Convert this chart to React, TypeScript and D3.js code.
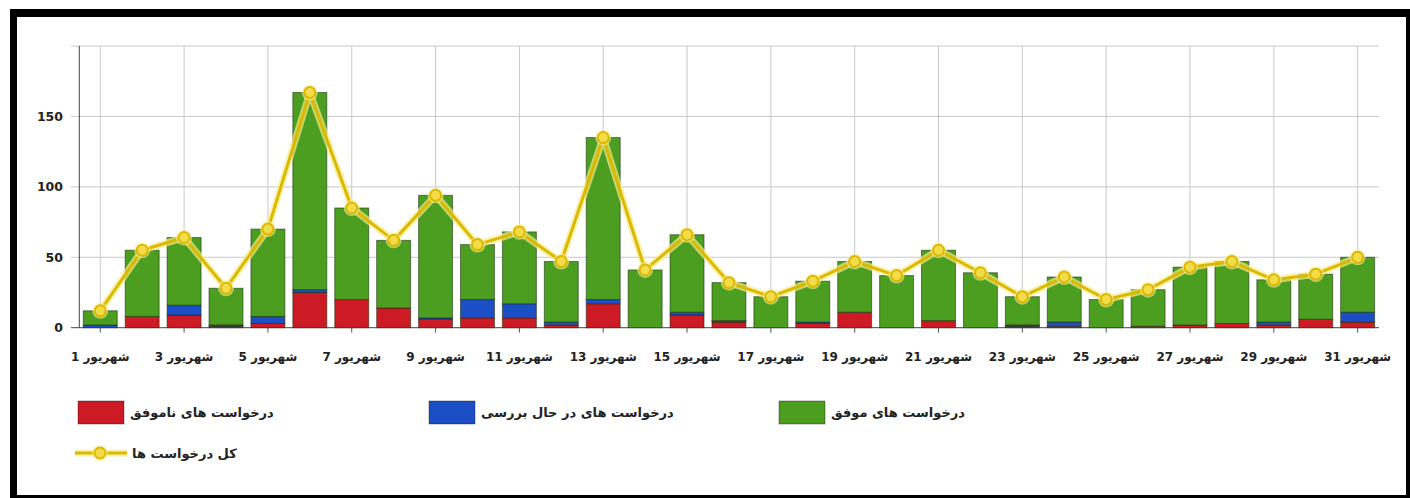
import React from "react";
import * as d3 from "d3";

const days = d3.range(1, 32).map((d) => `شهریور ${d}`);
const failed = [0, 8, 9, 1, 3, 25, 20, 14, 6, 7, 7, 2, 17, 0, 9, 4, 0, 3, 11, 0, 5, 0, 1, 1, 0, 1, 2, 3, 2, 6, 4];
const pending = [2, 0, 7, 1, 5, 2, 0, 0, 1, 13, 10, 2, 3, 0, 2, 1, 0, 1, 0, 0, 0, 0, 1, 3, 0, 0, 0, 0, 2, 0, 7];
const success = [10, 47, 48, 26, 62, 140, 65, 48, 87, 39, 51, 43, 115, 41, 55, 27, 22, 29, 36, 37, 50, 39, 20, 32, 20, 26, 41, 44, 30, 32, 39];
const yTicks = [0, 50, 100, 150];
const yGrid = [0, 50, 100, 150, 200];

const seriesNames = ["درخواست های ناموفق", "درخواست های در حال بررسی", "درخواست های موفق"];
const lineName = "کل درخواست ها";
const colors = ["#cc1b24", "#1c4fc6", "#4c9e20"];
const lineColor = "#dcb900";

const W = 1410;
const H = 498;
const FONT = "'DejaVu Sans', sans-serif";

export default function App() {
  const x = d3.scaleBand<string>().domain(days).range([79.3, 1378.6]).paddingInner(0.19).paddingOuter(0.095);
  const y = d3.scaleLinear().domain([0, 200]).range([327.7, 46]);
  const rows = days.map((d, i) => ({ day: d, failed: failed[i], pending: pending[i], success: success[i] }));
  const stack = d3.stack<any>().keys(["failed", "pending", "success"]);
  const layers = stack(rows);
  const totals = rows.map((r) => r.failed + r.pending + r.success);
  const cx = (d: string) => (x(d) as number) + x.bandwidth() / 2;
  const line = d3
    .line<number>()
    .x((_, i) => cx(days[i]))
    .y((v) => y(v));
  const path = line(totals) || "";
  const oddDays = days.filter((_, i) => i % 2 === 0);

  const legendCols = [78, 429, 779];

  return (
    <div style={{ position: "absolute", left: 0, top: 0 }}>
      <svg width={W} height={H} style={{ display: "block" }}>
        <rect x={0} y={0} width={W} height={H} fill="#fff" />
        <rect x={10} y={9} width={W - 10} height={H - 9} fill="#000" />
        <rect x={17} y={17} width={1406 - 17} height={495 - 17} fill="#fff" />
        {/* horizontal grid */}
        {yGrid.map((v) => (
          <line key={"h" + v} x1={71} x2={1379} y1={y(v)} y2={y(v)} stroke={v === 0 ? "#444" : "#c9c9c9"} strokeWidth={1} />
        ))}
        {/* vertical grid */}
        {oddDays.map((d) => (
          <g key={"v" + d}>
            <line x1={cx(d)} x2={cx(d)} y1={y(200)} y2={y(0)} stroke="#c9c9c9" strokeWidth={1} />
            <line x1={cx(d)} x2={cx(d)} y1={y(0)} y2={y(0) + 5} stroke="#555" strokeWidth={1} />
          </g>
        ))}
        <line x1={79.3} x2={79.3} y1={y(200)} y2={y(0)} stroke="#444" strokeWidth={1} />
        {yTicks.map((v) => (
          <text key={"yt" + v} x={63} y={y(v)} dy="0.35em" textAnchor="end" fontFamily={FONT} fontSize={12.5} fontWeight="bold" fill="#222">
            {v}
          </text>
        ))}
        {oddDays.map((d) => (
          <text key={"xt" + d} x={cx(d)} y={357} dy="0.35em" textAnchor="middle" direction="rtl" fontFamily={FONT} fontSize={12} fontWeight="bold" fill="#222">
            {d}
          </text>
        ))}
        {/* bars */}
        {layers.map((layer, li) => (
          <g key={"l" + li} fill={colors[li]}>
            {layer.map((seg, i) =>
              seg[1] - seg[0] > 0 ? (
                <rect
                  key={i}
                  x={x(days[i]) as number}
                  y={y(seg[1])}
                  width={x.bandwidth()}
                  height={y(seg[0]) - y(seg[1])}
                  stroke="rgba(20,40,10,0.55)"
                  strokeWidth={1}
                />
              ) : null
            )}
          </g>
        ))}
        {/* total line */}
        <path d={path} fill="none" stroke="#f6ec8c" strokeWidth={7} strokeOpacity={0.7} strokeLinejoin="round" />
        <path d={path} fill="none" stroke={lineColor} strokeWidth={3} strokeLinejoin="round" />
        {totals.map((v, i) => (
          <g key={"p" + i}>
            <circle cx={cx(days[i])} cy={y(v)} r={8} fill="#f8ef9a" opacity={0.6} />
            <circle cx={cx(days[i])} cy={y(v)} r={5.5} fill="#f3dc4a" stroke={lineColor} strokeWidth={2} />
          </g>
        ))}
        {/* legend */}
        {seriesNames.map((name, i) => (
          <g key={"lg" + i}>
            <rect x={legendCols[i]} y={401} width={46} height={23} fill={colors[i]} stroke="rgba(0,0,0,0.35)" strokeWidth={1} />
            <text x={legendCols[i] + 52} y={412.5} dy="0.35em" direction="rtl" textAnchor="end" fontFamily={FONT} fontSize={13} fontWeight="bold" fill="#222">
              {name}
            </text>
          </g>
        ))}
        <g>
          <line x1={75} x2={127} y1={453} y2={453} stroke="#f6ec8c" strokeWidth={7} strokeOpacity={0.7} />
          <line x1={75} x2={127} y1={453} y2={453} stroke={lineColor} strokeWidth={3} />
          <circle cx={100} cy={453} r={8} fill="#f8ef9a" opacity={0.6} />
          <circle cx={100} cy={453} r={5.5} fill="#f3dc4a" stroke={lineColor} strokeWidth={2} />
          <text x={132} y={453} dy="0.35em" direction="rtl" textAnchor="end" fontFamily={FONT} fontSize={13} fontWeight="bold" fill="#222">
            {lineName}
          </text>
        </g>
      </svg>
    </div>
  );
}
